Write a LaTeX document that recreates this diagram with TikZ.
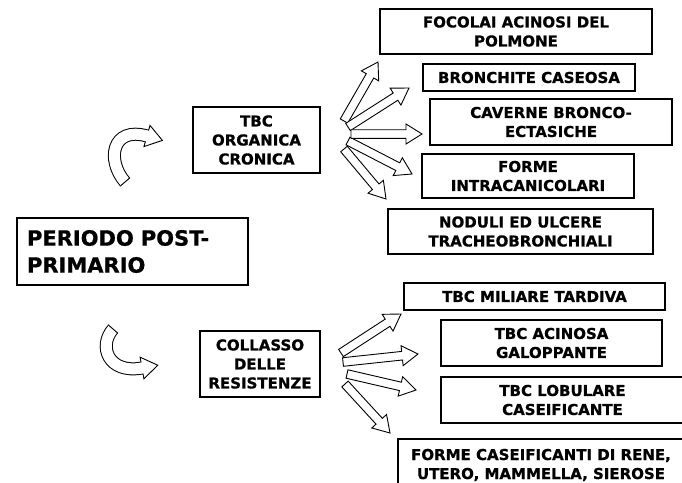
\documentclass[tikz,border=0pt]{standalone}
\usepackage{fontspec}
\setmainfont{DejaVu Sans}[BoldFeatures={FakeBold=0.8}]
\usetikzlibrary{calc}
\tikzset{
  box/.style={draw=black, line width=1.1pt, fill=white, inner sep=0pt, align=center,
    font=\bfseries\fontsize{15}{19}\selectfont},
  arrowbody/.style={draw=black, fill=white, line width=0.9pt, line join=miter},
}
\newcommand\blockarr[2]{%
  \path ($(#2)!16pt!(#1)$) coordinate (bc);
  \draw[arrowbody] ($(#1)!4.3pt!90:(#2)$) -- ($(bc)!4.3pt!90:(#2)$) -- ($(bc)!10pt!90:(#2)$)
     -- (#2) -- ($(bc)!10pt!-90:(#2)$) -- ($(bc)!4.3pt!-90:(#2)$) -- ($(#1)!4.3pt!-90:(#2)$) -- cycle;
}
\newcommand\curvarr[5]{% start, c1, c2, end, tip-length
  \draw[line width=13pt, line cap=butt] (#1) .. controls (#2) and (#3) .. (#4);
  \draw[white, line width=11pt, line cap=butt] (#1) .. controls (#2) and (#3) .. (#4);
  \draw[line width=0.9pt] ($(#1)!6.5pt!90:(#2)$) -- ($(#1)!6.5pt!-90:(#2)$);
  \draw[arrowbody] ($(#4)!11pt!90:(#3)$) -- ($(#4)!#5!180:(#3)$) -- ($(#4)!11pt!-90:(#3)$) -- cycle;
  \draw[white, line width=11pt] ($(#4)!1.5pt!(#3)$) -- ($(#4)!1.5pt!180:(#3)$);
}
\begin{document}
\begin{tikzpicture}[x=1pt, y=-1pt]
\useasboundingbox (0,0) rectangle (682,482);
\clip (0,0) rectangle (682,482);

% top fan
\coordinate (a1s) at (344,121); \coordinate (a1e) at (378,62);
\coordinate (a2s) at (348,127); \coordinate (a2e) at (409,88);
\coordinate (a3s) at (351,134); \coordinate (a3e) at (422,134);
\coordinate (a4s) at (348,141); \coordinate (a4e) at (412,174);
\coordinate (a5s) at (344,149); \coordinate (a5e) at (386,199);
\blockarr{a1s}{a1e}
\blockarr{a2s}{a2e}
\blockarr{a5s}{a5e}
\blockarr{a4s}{a4e}
\blockarr{a3s}{a3e}

% bottom fan
\coordinate (b1s) at (341,353); \coordinate (b1e) at (401,314);
\coordinate (b2s) at (343,362); \coordinate (b2e) at (418,354);
\coordinate (b3s) at (347,374); \coordinate (b3e) at (416,390);
\coordinate (b4s) at (345,384); \coordinate (b4e) at (390,433);
\blockarr{b1s}{b1e}
\blockarr{b2s}{b2e}
\blockarr{b3s}{b3e}
\blockarr{b4s}{b4e}

% curved arrows
\coordinate (c1s) at (125,182); \coordinate (c1a) at (106,160);
\coordinate (c1b) at (112,126); \coordinate (c1e) at (147,136);
\curvarr{c1s}{c1a}{c1b}{c1e}{16pt}
\coordinate (c2s) at (113,329); \coordinate (c2a) at (98,346);
\coordinate (c2b) at (108,374); \coordinate (c2e) at (142,368);
\curvarr{c2s}{c2a}{c2b}{c2e}{16pt}

% boxes
\node[box, minimum width=272pt, minimum height=45pt] (foc) at (516,31.5) {FOCOLAI ACINOSI DEL\\POLMONE};
\node[box, minimum width=212pt, minimum height=27pt] (bro) at (529,77.5) {BRONCHITE CASEOSA};
\node[box, minimum width=242pt, minimum height=46pt] (cav) at (551,122) {CAVERNE BRONCO-\\ECTASICHE};
\node[box, minimum width=212pt, minimum height=44pt] (frm) at (528,176) {FORME\\INTRACANICOLARI};
\node[box, minimum width=265pt, minimum height=45pt] (nod) at (520.5,231.5) {NODULI ED ULCERE\\TRACHEOBRONCHIALI};
\node[box, minimum width=127pt, minimum height=66pt] (org) at (256.5,140) {TBC\\ORGANICA\\CRONICA};
\node[box, align=left, text width=211pt, inner xsep=10pt, minimum height=67pt,
  font=\bfseries\fontsize{21}{27}\selectfont] (per) at (132.5,251.5) {PERIODO POST-\\PRIMARIO};
\node[box, minimum width=120pt, minimum height=66pt] (col) at (260,364) {COLLASSO\\DELLE\\RESISTENZE};
\node[box, minimum width=261pt, minimum height=27pt] (mil) at (534.5,296.5) {TBC MILIARE TARDIVA};
\node[box, minimum width=221pt, minimum height=46pt] (aci) at (551.5,343) {TBC ACINOSA\\GALOPPANTE};
\node[box, minimum width=243pt, minimum height=46pt] (lob) at (562.5,400) {TBC LOBULARE\\CASEIFICANTE};
\node[box, minimum width=286pt, minimum height=52pt] (cas) at (541,465) {FORME CASEIFICANTI DI RENE,\\UTERO, MAMMELLA, SIEROSE};
\end{tikzpicture}
\end{document}
